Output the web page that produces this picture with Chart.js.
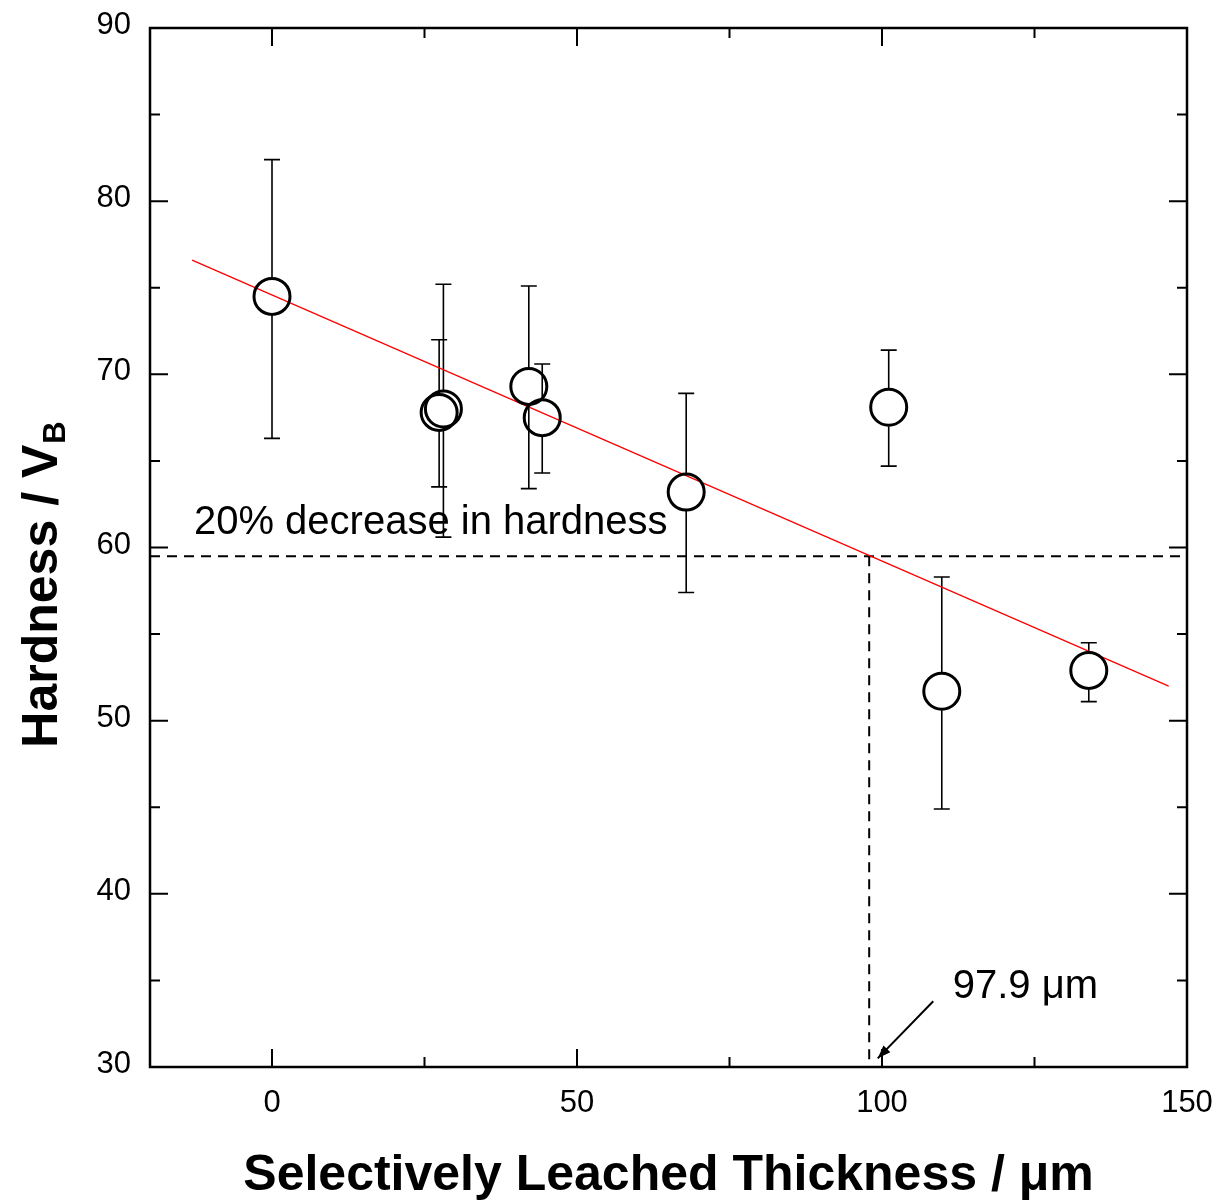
<!DOCTYPE html>
<html>
<head>
<meta charset="utf-8">
<script src="https://cdn.jsdelivr.net/npm/chart.js@4.4.1/dist/chart.umd.min.js"></script>
<style>
  html, body { margin: 0; padding: 0; background: #fff; }
  #hardnessChart { display: block; }
</style>
</head>
<body>
<canvas id="hardnessChart" width="1227" height="1203"></canvas>
<script>
// measured points (leached thickness in um, hardness VB)
const thickness = [0, 27.4, 28.1, 42.1, 44.3, 67.9, 101.1, 109.8, 133.9];
const hardness = [74.5, 67.8, 68.0, 69.3, 67.5, 63.2, 68.1, 51.7, 52.9];
const hardnessHigh = [82.4, 72.0, 75.2, 75.1, 70.6, 68.9, 71.4, 58.3, 54.5];
const hardnessLow = [66.3, 63.5, 60.6, 63.4, 64.3, 57.4, 64.7, 44.9, 51.1];

// linear fit
const fitX = [-13.1, 147];
const fitY = [76.6, 52.0];

// 20% decrease threshold
const cutHardness = 59.5;
const cutThickness = 97.9;
const arrowFrom = [108.4, 33.8];
const arrowTo = [99.3, 30.5];

const xTicks = [0, 50, 100, 150];
const xMinor = [25, 75, 125];
const yTicks = [30, 40, 50, 60, 70, 80, 90];
const yMinor = [35, 45, 55, 65, 75, 85];

const FONT = '"Liberation Sans", Arial, sans-serif';
const MARKER_R = 18;

const framePlugin = {
    id: 'frame',
    beforeDatasetsDraw(chart) {
        // error bars, stopping at the hollow circles
        const ctx = chart.ctx;
        const xs = chart.scales.x, ys = chart.scales.y;
        ctx.save();
        ctx.strokeStyle = '#000';
        ctx.lineWidth = 1.6;
        thickness.forEach((t, i) => {
            let px = xs.getPixelForValue(t);
            let py = ys.getPixelForValue(hardness[i]);
            let hi = ys.getPixelForValue(hardnessHigh[i]);
            let lo = ys.getPixelForValue(hardnessLow[i]);
            ctx.beginPath();
            ctx.moveTo(px, hi); ctx.lineTo(px, py - MARKER_R - 1);
            ctx.moveTo(px, py + MARKER_R + 1); ctx.lineTo(px, lo);
            ctx.moveTo(px - 8, hi); ctx.lineTo(px + 8, hi);
            ctx.moveTo(px - 8, lo); ctx.lineTo(px + 8, lo);
            ctx.stroke();
        });
        ctx.restore();
    },
    afterDraw(chart) {
        const ctx = chart.ctx;
        const a = chart.chartArea;
        const xs = chart.scales.x, ys = chart.scales.y;
        ctx.save();

        // box
        ctx.strokeStyle = '#000';
        ctx.lineWidth = 2.5;
        ctx.strokeRect(a.left, a.top, a.right - a.left, a.bottom - a.top);

        // inward ticks on all four sides
        ctx.lineWidth = 2;
        ctx.beginPath();
        const xt = (list, len) => list.forEach(v => {
            let px = xs.getPixelForValue(v);
            ctx.moveTo(px, a.bottom); ctx.lineTo(px, a.bottom - len);
            ctx.moveTo(px, a.top); ctx.lineTo(px, a.top + len);
        });
        const yt = (list, len) => list.forEach(v => {
            let py = ys.getPixelForValue(v);
            ctx.moveTo(a.left, py); ctx.lineTo(a.left + len, py);
            ctx.moveTo(a.right, py); ctx.lineTo(a.right - len, py);
        });
        xt(xTicks.filter(v => v < 150), 18); xt(xMinor, 10);
        yt(yTicks.filter(v => v > 30 && v < 90), 18); yt(yMinor, 10);
        ctx.stroke();

        // tick labels
        ctx.fillStyle = '#000';
        ctx.font = '31px ' + FONT;
        ctx.textAlign = 'center';
        ctx.textBaseline = 'alphabetic';
        xTicks.forEach(v => ctx.fillText(String(v), xs.getPixelForValue(v), a.bottom + 45));
        ctx.textAlign = 'right';
        yTicks.forEach(v => ctx.fillText(String(v), a.left - 19, ys.getPixelForValue(v) + 6));

        // axis titles
        ctx.font = 'bold 50px ' + FONT;
        ctx.textAlign = 'center';
        ctx.textBaseline = 'alphabetic';
        ctx.fillText('Selectively Leached Thickness / \u03bcm', (a.left + a.right) / 2, 1190);

        ctx.save();
        ctx.translate(57, 585);
        ctx.rotate(-Math.PI / 2);
        let main = 'Hardness / V';
        ctx.font = 'bold 50px ' + FONT;
        let w1 = ctx.measureText(main).width;
        ctx.font = 'bold 31px ' + FONT;
        let w2 = ctx.measureText('B').width;
        let start = -(w1 + w2) / 2;
        ctx.textAlign = 'left';
        ctx.font = 'bold 50px ' + FONT;
        ctx.fillText(main, start, 0);
        ctx.font = 'bold 31px ' + FONT;
        ctx.fillText('B', start + w1 + 1, 8);
        ctx.restore();

        // annotations
        ctx.font = '40px ' + FONT;
        ctx.textAlign = 'left';
        ctx.textBaseline = 'middle';
        ctx.fillText('20% decrease in hardness', xs.getPixelForValue(-12.8), ys.getPixelForValue(61.4));
        ctx.fillText('97.9 \u03bcm', xs.getPixelForValue(111.6), ys.getPixelForValue(34.6));

        // arrow to the intercept
        let x0 = xs.getPixelForValue(arrowFrom[0]), y0 = ys.getPixelForValue(arrowFrom[1]);
        let x1 = xs.getPixelForValue(arrowTo[0]), y1 = ys.getPixelForValue(arrowTo[1]);
        ctx.lineWidth = 2;
        ctx.beginPath();
        ctx.moveTo(x0, y0); ctx.lineTo(x1, y1);
        ctx.stroke();
        let ang = Math.atan2(y1 - y0, x1 - x0);
        ctx.beginPath();
        ctx.moveTo(x1, y1);
        ctx.lineTo(x1 - 14 * Math.cos(ang - 0.35), y1 - 14 * Math.sin(ang - 0.35));
        ctx.lineTo(x1 - 14 * Math.cos(ang + 0.35), y1 - 14 * Math.sin(ang + 0.35));
        ctx.closePath();
        ctx.fill();

        ctx.restore();
    }
};

new Chart(document.getElementById('hardnessChart').getContext('2d'), {
    type: 'scatter',
    data: {
        datasets: [
            {
                label: 'hardness',
                data: thickness.map((t, i) => ({ x: t, y: hardness[i] })),
                pointStyle: 'circle',
                pointRadius: MARKER_R,
                pointBorderWidth: 3,
                pointBorderColor: '#000',
                pointBackgroundColor: 'rgba(0,0,0,0)',
                order: 1
            },
            {
                label: 'fit',
                type: 'line',
                data: fitX.map((x, i) => ({ x: x, y: fitY[i] })),
                borderColor: '#ff0000',
                borderWidth: 1.3,
                pointRadius: 0,
                order: 2
            },
            {
                label: 'threshold',
                type: 'line',
                data: [{ x: -20, y: cutHardness }, { x: 150, y: cutHardness }],
                borderColor: '#000',
                borderWidth: 2,
                borderDash: [10, 7],
                pointRadius: 0,
                order: 3
            },
            {
                label: 'intercept',
                type: 'line',
                data: [{ x: cutThickness, y: cutHardness }, { x: cutThickness, y: 30.4 }],
                borderColor: '#000',
                borderWidth: 2,
                borderDash: [10, 7],
                pointRadius: 0,
                order: 3
            }
        ]
    },
    options: {
        responsive: false,
        animation: false,
        layout: { padding: { left: 150, top: 28, right: 40, bottom: 136 } },
        plugins: { legend: { display: false }, tooltip: { enabled: false } },
        scales: {
            x: { type: 'linear', min: -20, max: 150, display: false },
            y: { type: 'linear', min: 30, max: 90, display: false }
        }
    },
    plugins: [framePlugin]
});
</script>
</body>
</html>
